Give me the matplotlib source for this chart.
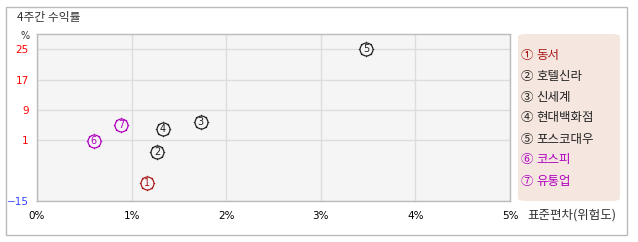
import matplotlib
matplotlib.use("Agg")
import matplotlib.pyplot as plt
from matplotlib.patches import FancyBboxPatch, Rectangle

plt.rcParams['font.family'] = ['Noto Sans CJK KR', 'DejaVu Sans']

names = ["동서", "호텔신라", "신세계", "현대백화점", "포스코대우", "코스피", "유통업"]
circled = ["①", "②", "③", "④", "⑤", "⑥", "⑦"]
risk = [1.16, 1.27, 1.73, 1.33, 3.48, 0.60, 0.89]      # std dev (%)
ret = [-10.2, -2.0, 5.9, 4.1, 25.0, 0.9, 5.1]          # 4-week return (%)
colors = ["#aa1a1a", "#222222", "#222222", "#222222", "#222222", "#b000c0", "#b000c0"]
xticks = [0, 1, 2, 3, 4, 5]
xticklabels = ["0%", "1%", "2%", "3%", "4%", "5%"]
yticks = [-15, 1, 9, 17, 25]
ytick_colors = ["#3344ff", "red", "red", "red", "red"]

fig = plt.figure(figsize=(6.38, 2.42), dpi=100)
fig.patch.set_facecolor("white")

# outer border
fig.add_artist(Rectangle((6/638, 1-235/242), 621/638, 228/242, transform=fig.transFigure,
                         facecolor="none", edgecolor="#bbbbbb", lw=1))

ax = fig.add_axes([37/638, 1-201/242, 473/638, 167/242])
ax.set_facecolor("#f5f5f5")
ax.set_xlim(0, 5)
ax.set_ylim(-15, 29)
ax.set_xticks(xticks)
ax.set_xticklabels(xticklabels, fontsize=7.5, family=['DejaVu Sans'])
ax.set_yticks(yticks)
ax.set_yticklabels([str(v) if v >= 0 else "−15" for v in yticks], fontsize=7.5, family=['DejaVu Sans'])
for lab, c in zip(ax.get_yticklabels(), ytick_colors):
    lab.set_color(c)
ax.tick_params(length=0, pad=6)
ax.tick_params(axis='x', pad=7)
ax.grid(True, color="#dddddd", lw=1)
ax.set_axisbelow(True)
for s in ax.spines.values():
    s.set_color("#bbbbbb")
    s.set_linewidth(1)

for i in range(len(names)):
    ax.plot(risk[i], ret[i], marker=(8, 2, 0), ms=11, color=colors[i], mew=0.6, zorder=3)
    ax.plot(risk[i], ret[i], marker='o', ms=9.3, mfc="#f5f5f5", mec=colors[i], mew=0.9, zorder=4)
    ax.text(risk[i], ret[i], str(i + 1), ha='center', va='center', fontsize=7,
            color=colors[i], zorder=5, family=['DejaVu Sans'])

fig.text(17/638, 1-18/242, "4주간 수익률", fontsize=8.5, color="#333333", va='center', ha='left')
fig.text(25/638, 1-36/242, "%", fontsize=7, color="#333333", va='center', ha='center', family=['DejaVu Sans'])
fig.text(527/638, 1-215/242, "표준편차(위험도)", fontsize=9, color="#333333", va='center', ha='left')

# legend box
fig.add_artist(FancyBboxPatch((518/638, 1-201/242), 102/638, 167/242,
                              boxstyle="round,pad=0,rounding_size=0.012",
                              transform=fig.transFigure, facecolor="#f5e7df",
                              edgecolor="none"))
ys = [56, 77, 98, 118, 139, 160, 181]
for i in range(len(names)):
    fig.text(521/638, 1-ys[i]/242, circled[i], fontsize=9,
             color=colors[i], va='center', ha='left')
    fig.text(536/638, 1-ys[i]/242, names[i], fontsize=9,
             color=colors[i], va='center', ha='left')

fig.savefig("out.png", dpi=100)
